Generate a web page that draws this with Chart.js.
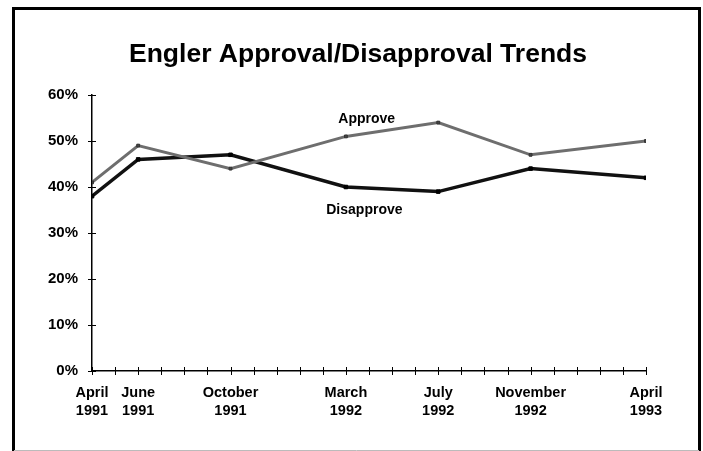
<!DOCTYPE html>
<html>
<head>
<meta charset="utf-8">
<script src="https://cdn.jsdelivr.net/npm/chart.js@4/dist/chart.umd.min.js"></script>
<style>
  html, body { margin: 0; padding: 0; background: #fff; }
  #wrap { width: 703px; height: 451px; position: relative; }
</style>
</head>
<body>
<div id="wrap"><canvas id="c" width="703" height="451"></canvas></div>
<script>
// Survey dates: months counted from April 1991
const surveyMonths = [0, 2, 6, 11, 15, 19, 24];
const monthNames = ['April', 'June', 'October', 'March', 'July', 'November', 'April'];
const yearNames = ['1991', '1991', '1991', '1992', '1992', '1992', '1993'];

// Percent of respondents
const approve = [41, 49, 44, 51, 54, 47, 50];
const disapprove = [38, 46, 47, 40, 39, 44, 42];

// Value axis ticks
const yTicks = [0, 10, 20, 30, 40, 50, 60];

const titleText = 'Engler Approval/Disapproval Trends';

// Series name labels, placed in data space (month, percent)
const seriesLabels = [
  { text: 'Approve', month: 11.9, pct: 54.8 },
  { text: 'Disapprove', month: 11.8, pct: 35.0 }
];

const BOLD = '"Liberation Sans", Arial, Helvetica, sans-serif';

const framePlugin = {
  id: 'frame',
  beforeDraw(chart) {
    const ctx = chart.ctx;
    ctx.save();
    ctx.fillStyle = '#fff';
    ctx.fillRect(0, 0, chart.width, chart.height);
    ctx.strokeStyle = '#000';
    ctx.lineWidth = 3;
    ctx.beginPath();
    ctx.moveTo(13.5, 451);
    ctx.lineTo(13.5, 8.5);
    ctx.lineTo(699.5, 8.5);
    ctx.lineTo(699.5, 451);
    ctx.stroke();
    ctx.strokeStyle = '#bbb';
    ctx.lineWidth = 1;
    ctx.beginPath();
    ctx.moveTo(14, 450.5);
    ctx.lineTo(699, 450.5);
    ctx.stroke();
    // title
    ctx.fillStyle = '#000';
    ctx.font = 'bold 26.5px ' + BOLD;
    ctx.textAlign = 'center';
    ctx.textBaseline = 'alphabetic';
    ctx.fillText(titleText, 358, 62);
    ctx.restore();
  }
};

const crossTicksPlugin = {
  id: 'crossTicks',
  afterDatasetsDraw(chart) {
    const ctx = chart.ctx;
    const xs = chart.scales.x, ys = chart.scales.y;
    const a = chart.chartArea;
    ctx.save();
    ctx.strokeStyle = '#000';
    ctx.lineWidth = 1;
    ctx.beginPath();
    for (let m = 0; m <= 24; m++) {
      const px = Math.round(xs.getPixelForValue(m)) + 0.5;
      ctx.moveTo(px, a.bottom - 4);
      ctx.lineTo(px, a.bottom + 4);
    }
    yTicks.forEach(v => {
      const py = Math.round(ys.getPixelForValue(v)) + 0.5;
      ctx.moveTo(a.left - 4, py);
      ctx.lineTo(a.left + 4, py);
    });
    ctx.stroke();
    // series names
    ctx.fillStyle = '#000';
    ctx.font = 'bold 14px ' + BOLD;
    ctx.textAlign = 'center';
    ctx.textBaseline = 'middle';
    seriesLabels.forEach(l => {
      ctx.fillText(l.text, xs.getPixelForValue(l.month), ys.getPixelForValue(l.pct));
    });
    ctx.restore();
  }
};

new Chart(document.getElementById('c'), {
  type: 'line',
  data: {
    datasets: [
      {
        label: 'Approve',
        data: surveyMonths.map((m, i) => ({ x: m, y: approve[i] })),
        borderColor: '#6e6e6e',
        backgroundColor: '#444',
        borderWidth: 3,
        pointStyle: 'rect',
        pointRadius: 2,
        pointBorderWidth: 1,
        pointBorderColor: '#333',
        tension: 0
      },
      {
        label: 'Disapprove',
        data: surveyMonths.map((m, i) => ({ x: m, y: disapprove[i] })),
        borderColor: '#111',
        backgroundColor: '#000',
        borderWidth: 3.5,
        pointStyle: 'rect',
        pointRadius: 2.5,
        pointBorderWidth: 1,
        pointBorderColor: '#000',
        tension: 0
      }
    ]
  },
  options: {
    responsive: false,
    animation: false,
    layout: { padding: { left: 0, right: 57, top: 95, bottom: 0 } },
    plugins: {
      legend: { display: false },
      title: { display: false },
      tooltip: { enabled: false }
    },
    scales: {
      x: {
        type: 'linear',
        min: 0,
        max: 24,
        grid: { display: false, drawTicks: false },
        border: { display: true, color: '#000', width: 1.5 },
        afterBuildTicks(scale) {
          scale.ticks = surveyMonths.map(m => ({ value: m }));
        },
        afterFit(scale) { scale.height = 80; },
        ticks: {
          autoSkip: false,
          maxRotation: 0,
          padding: 13,
          color: '#000',
          font: { family: BOLD, size: 14.5, weight: 'bold', lineHeight: 1.25 },
          callback(v) {
            const i = surveyMonths.indexOf(v);
            return i >= 0 ? [monthNames[i], yearNames[i]] : '';
          }
        }
      },
      y: {
        min: 0,
        max: 60,
        grid: { display: false, drawTicks: false },
        border: { display: true, color: '#000', width: 1.5 },
        afterBuildTicks(scale) {
          scale.ticks = yTicks.map(v => ({ value: v }));
        },
        afterFit(scale) { scale.width = 92; },
        ticks: {
          padding: 14,
          color: '#000',
          font: { family: BOLD, size: 15, weight: 'bold' },
          callback(v) { return v + '%'; }
        }
      }
    }
  },
  plugins: [framePlugin, crossTicksPlugin]
});
</script>
</body>
</html>
